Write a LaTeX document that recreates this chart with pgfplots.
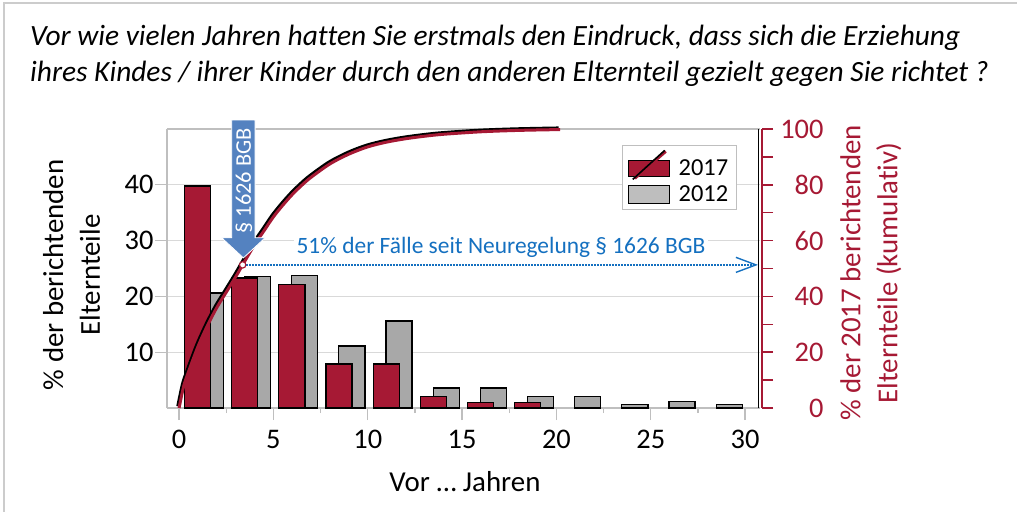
\documentclass[border=0pt]{standalone}
\usepackage{pgfplots}
\pgfplotsset{compat=1.18}
\usepackage{pgfplotstable}
\usepackage{fontspec}
\setmainfont{Carlito}[Ligatures=NoCommon]
\usetikzlibrary{arrows.meta}
\definecolor{crimson}{RGB}{166,25,52}
\definecolor{bargray}{RGB}{168,168,168}
\definecolor{leggray}{RGB}{190,190,190}
\definecolor{bluebox}{RGB}{84,130,192}
\definecolor{txtblue}{RGB}{20,112,192}
\definecolor{gridgray}{RGB}{217,217,217}
\definecolor{axgray}{RGB}{191,191,191}

\pgfplotstableread{
x y
0.98 39.8
3.48 23.3
5.98 22.2
8.48 7.9
10.98 7.9
13.48 2.0
15.98 1.0
18.48 1.0
}\redbars

\pgfplotstableread{
x y
1.66 20.6
4.16 23.5
6.66 23.8
9.16 11.1
11.66 15.6
14.16 3.6
16.66 3.6
19.16 2.0
21.66 2.0
24.16 0.6
26.66 1.1
29.16 0.6
}\graybars

\pgfplotstableread{
x y
0 0
0.25 8
0.5 13
1.0 22
1.5 29.5
2.0 36
2.5 41.5
3.0 47
3.37 51.3
4.0 58.5
4.5 63.5
5.0 68.5
5.5 72.7
6.0 76.5
6.5 79.8
7.0 82.7
8.0 87.5
9.0 91
10 93.6
11 95.3
12 96.5
13 97.4
14 98.1
16 99
18 99.5
20.2 99.8
}\cumcurve

\begin{document}
\begin{tikzpicture}
\useasboundingbox (-167bp,-104bp) rectangle (850bp,408bp);
% frame
\draw[axgray!80, line width=2bp] (-163bp,-110bp) -- (-163bp,405bp) -- (860bp,405bp);
% title
\node[anchor=base west, font=\fontsize{29.5}{34}\selectfont\itshape, inner sep=0pt] at (-137bp,362bp)
  {Vor wie vielen Jahren hatten Sie erstmals den Eindruck, dass sich die Erziehung};
\node[anchor=base west, font=\fontsize{29.5}{34}\selectfont\itshape, inner sep=0pt] at (-137bp,326bp)
  {ihres Kindes / ihrer Kinder durch den anderen Elternteil gezielt gegen Sie richtet ?};

\begin{axis}[
  at={(0,0)}, anchor=south west,
  scale only axis, width=593bp, height=279bp,
  xmin=-0.64, xmax=30.79, ymin=0, ymax=50,
  clip=false,
  axis x line*=bottom, axis y line*=left,
  axis line style={axgray, line width=1.3bp, -},
  xtick={0,5,...,30}, minor xtick={2.5,7.5,...,27.5},
  ytick={10,20,30,40},
  ymajorgrids, grid style={gridgray, line width=1.3bp},
  tick align=outside,
  major tick length=12bp, minor tick length=5bp,
  tick style={axgray, line width=1.3bp},
  tick label style={font=\fontsize{28.5}{28.5}\selectfont},
  xticklabel style={yshift=-7bp},
  yticklabel style={xshift=2bp},
  /pgf/number format/assume math mode=true,
  xlabel={Vor … Jahren},
  xlabel style={at={(axis description cs:0.5025,-0.265)}, anchor=center, font=\fontsize{29}{29}\selectfont},
  ylabel={\% der berichtenden\\Elternteile},
  ylabel style={at={(axis description cs:-0.161,0.477)}, anchor=center, align=center, font=\fontsize{29}{37}\selectfont},
  legend style={at={(0.961,0.943)}, anchor=north east, draw=axgray, line width=1.3bp,
    font=\fontsize{24.5}{24.5}\selectfont, row sep=4bp, inner xsep=6bp, inner ysep=4bp,
    cells={anchor=west}},
]
\draw[axgray, line width=1.3bp] (rel axis cs:0,1) -- (rel axis cs:1,1);
\draw[black, line width=1.8bp] ([xshift=-1.5bp]rel axis cs:1,0) -- ([xshift=-1.5bp]rel axis cs:1,1);

\addplot[ybar, bar width=1.38, bar shift=0pt, fill=bargray, draw=black, line width=1.2bp, forget plot]
  table[x=x, y=y] {\graybars};
\addplot[ybar, bar width=1.38, bar shift=0pt, fill=crimson, draw=black, line width=1.2bp, forget plot]
  table[x=x, y=y] {\redbars};

\addlegendimage{legend image code/.code={
  \path[draw=none, fill=none] (0bp,0bp) rectangle (48bp,1bp);
  \filldraw[fill=crimson, draw=black, line width=1.2bp] (0bp,-8bp) rectangle (41bp,8bp);
  \draw[crimson, line width=3bp] (6bp,-10bp) -- (37bp,17bp);
  \draw[black, line width=1.6bp] (4bp,-11bp) -- (36bp,18bp);
}}
\addlegendentry{2017}
\addlegendimage{legend image code/.code={
  \path[draw=none, fill=none] (0bp,0bp) rectangle (48bp,1bp);
  \filldraw[fill=leggray, draw=black, line width=1.2bp] (0bp,-9bp) rectangle (41bp,9bp);
}}
\addlegendentry{2012}
\end{axis}

\begin{axis}[
  at={(0,0)}, anchor=south west,
  scale only axis, width=595bp, height=279bp,
  xmin=-0.64, xmax=30.896, ymin=0, ymax=100,
  clip=false,
  axis x line=none, axis y line*=right,
  y axis line style={crimson, line width=2.4bp, -},
  ytick={0,20,...,100}, minor ytick={10,30,...,90},
  tick align=outside,
  major tick length=11bp, minor tick length=11bp,
  tick style={crimson, line width=1.5bp},
  yticklabel style={text=crimson, font=\fontsize{28.5}{28.5}\selectfont, anchor=east, xshift=54bp},
  /pgf/number format/assume math mode=true,
  ylabel={\% der 2017 berichtenden\\Elternteile (kumulativ)},
  ylabel style={at={(axis description cs:1.183,0.484)}, anchor=center, align=center, text=crimson, font=\fontsize{29}{37}\selectfont},
]
\addplot[black, line width=2.6bp, smooth, xshift=-1.5bp, yshift=1.8bp] table[x=x, y=y] {\cumcurve};
\addplot[crimson, line width=3bp, smooth] table[x=x, y=y] {\cumcurve};

\draw[txtblue, line width=1.5bp, dash pattern=on 1.5bp off 1.5bp, -{Straight Barb[length=20bp, width=15bp, line width=1.4bp]}]
  (axis cs:3.55,51.3) -- (axis cs:30.68,51.3);
\addplot[only marks, mark=*, mark size=3.2bp, mark options={fill=white, draw=crimson, line width=1.2bp}]
  coordinates {(3.37,51.3)};

\filldraw[fill=bluebox, draw=white, line width=0.8bp]
  (axis cs:2.79,103.2) -- (axis cs:4.03,103.2) -- (axis cs:4.03,61) -- (axis cs:4.56,61)
  -- (axis cs:3.41,53.8) -- (axis cs:2.26,61) -- (axis cs:2.79,61) -- cycle;
\node[rotate=90, text=white, font=\fontsize{22.5}{22.5}\selectfont, inner sep=0pt] at (axis cs:3.43,81.4) {§ 1626 BGB};

\node[fill=white, text=txtblue, font=\fontsize{23.5}{23.5}\selectfont, inner sep=3bp] at (axis cs:17.06,57.4)
  {51\% der Fälle seit Neuregelung § 1626 BGB};
\end{axis}
\end{tikzpicture}
\end{document}
